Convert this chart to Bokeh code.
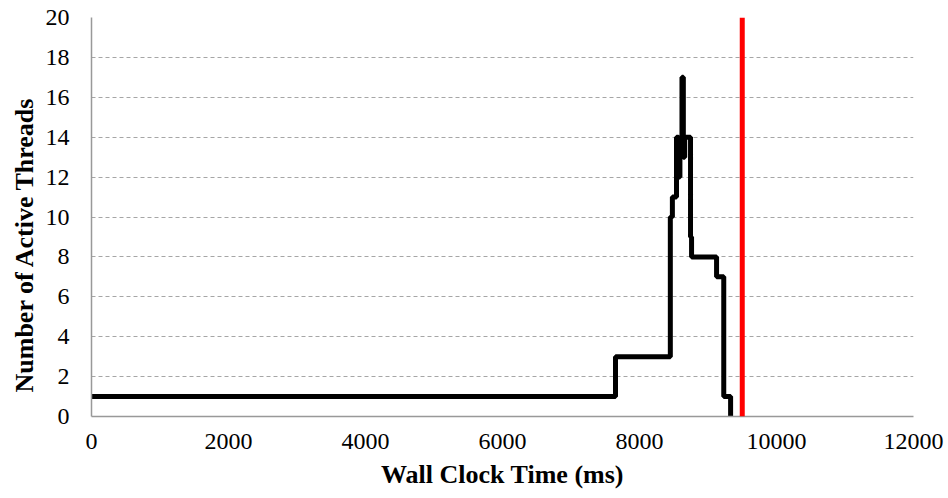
from bokeh.plotting import figure
from bokeh.models import Range1d, FixedTicker, Span, Title
from bokeh.embed import file_html
from bokeh.resources import INLINE

# Step series: time (ms) at which the thread count changes, and the new count
times = [0, 7650, 8450, 8480, 8540, 8570, 8590, 8605, 8620, 8640, 8660, 8745, 8760, 9125, 9230, 9330]
threads = [1, 3, 10, 11, 14, 12, 14, 13, 17, 13, 14, 9, 8, 7, 1, 0]
deadline = [9500]

x_ticks = [0, 2000, 4000, 6000, 8000, 10000, 12000]
y_ticks = [0, 2, 4, 6, 8, 10, 12, 14, 16, 18, 20]

p = figure(width=945, height=492, output_backend="svg", toolbar_location=None,
           x_range=Range1d(0, 12000), y_range=Range1d(0, 20),
           min_border_left=91, min_border_right=32, min_border_top=17, min_border_bottom=76)

p.step(times, threads, mode="after", line_color="black", line_width=5)

for d in deadline:
    p.add_layout(Span(location=d, dimension="height", line_color="#FF0000", line_width=5))

font = "Liberation Serif"
p.outline_line_color = None
p.xgrid.grid_line_color = None
p.ygrid.grid_line_color = "#A6A6A6"
p.ygrid.grid_line_dash = "4 3"
p.ygrid.grid_line_width = 1

p.xaxis.ticker = FixedTicker(ticks=x_ticks)
p.yaxis.ticker = FixedTicker(ticks=y_ticks)
for ax in (p.xaxis, p.yaxis):
    ax.axis_line_color = "#999999"
    ax.axis_line_width = 1.5
    ax.major_tick_line_color = None
    ax.minor_tick_line_color = None
    ax.major_tick_out = 0
    ax.major_tick_in = 0
    ax.major_label_text_font = font
    ax.major_label_text_font_size = "24px"
    ax.major_label_text_color = "black"
    ax.axis_label_text_font = font
    ax.axis_label_text_font_style = "bold"
    ax.axis_label_text_font_size = "26px"
    ax.axis_label_text_color = "black"

p.xaxis.axis_label = "Wall Clock Time (ms)"
p.xaxis.major_label_standoff = 17
p.yaxis.major_label_standoff = 22
p.xaxis.axis_label_standoff = 8

ytitle = Title(text="Number of Active Threads", align="left", offset=24,
               text_font=font, text_font_style="bold", text_font_size="26px",
               text_color="black", standoff=8)
p.add_layout(ytitle, "left")

open("out.html", "w").write(file_html(p, INLINE))
